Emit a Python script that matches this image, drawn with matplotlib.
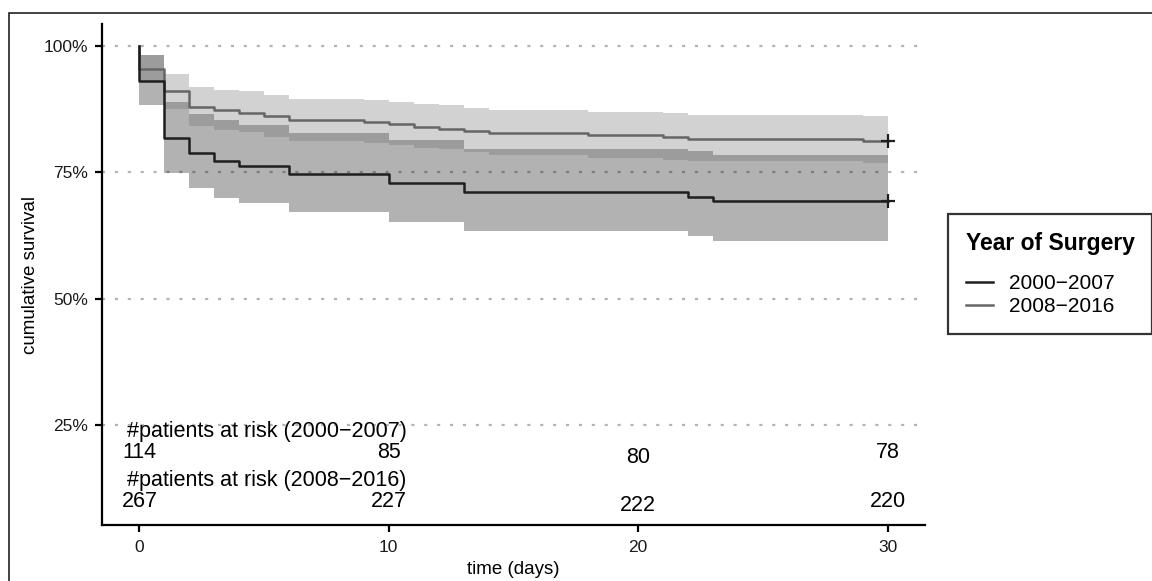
import numpy as np
import matplotlib
matplotlib.use("Agg")
import matplotlib.pyplot as plt
from matplotlib.patches import Rectangle
from matplotlib.lines import Line2D

plt.rcParams['font.family'] = ['Liberation Sans', 'DejaVu Sans']

# ---------------- data ----------------
end_time = 30

# 2000-2007
times_a = [0, 1, 2, 3, 4, 6, 10, 13, 22, 23]
surv_a = [0.930, 0.817, 0.789, 0.772, 0.763, 0.746, 0.729, 0.711, 0.702, 0.693]
upper_a = [0.982, 0.890, 0.866, 0.853, 0.844, 0.8285, 0.813, 0.797, 0.792, 0.784]
lower_a = [0.883, 0.748, 0.7185, 0.699, 0.690, 0.671, 0.652, 0.633, 0.623, 0.614]

# 2008-2016
times_b = [0, 1, 2, 3, 4, 5, 6, 9, 10, 11, 12, 13, 14, 18, 21, 22, 29]
surv_b = [0.955, 0.910, 0.880, 0.873, 0.868, 0.861, 0.854, 0.850, 0.846, 0.839,
          0.835, 0.8325, 0.827, 0.8233, 0.820, 0.816, 0.812]
upper_b = [0.983, 0.944, 0.919, 0.913, 0.910, 0.902, 0.896, 0.8925, 0.889, 0.886,
           0.883, 0.877, 0.874, 0.870, 0.867, 0.864, 0.8606]
lower_b = [0.930, 0.876, 0.8415, 0.834, 0.830, 0.820, 0.811, 0.808, 0.804, 0.799,
           0.797, 0.790, 0.784, 0.7787, 0.775, 0.7715, 0.768]

series_labels = ['2000\u22122007', '2008\u22122016']
legend_title = 'Year of Surgery'

risk_times = [0, 10, 20, 30]
risk_a = [114, 85, 80, 78]
risk_b = [267, 227, 222, 220]
risk_header_a = '#patients at risk (2000\u22122007)'
risk_header_b = '#patients at risk (2008\u22122016)'

y_ticks = [0.25, 0.50, 0.75, 1.00]
y_ticklabels = ['25%', '50%', '75%', '100%']
x_ticks = [0, 10, 20, 30]

# ---------------- figure ----------------
W, H = 1152, 581
fig = plt.figure(figsize=(W / 100, H / 100), dpi=100)
ax = fig.add_axes([102 / W, 1 - 525 / H, (925 - 102) / W, (525 - 24) / H])

col_a = '#1e1e1e'
col_b = '#666666'

# grid (dotted horizontal)
for yv in y_ticks:
    ax.axhline(yv, color='#b4b4b4', lw=1.6, linestyle=(0, (1.4, 4.4)), zorder=0.5)

# confidence bands
xa = np.r_[times_a, end_time]
xb = np.r_[times_b, end_time]
ax.fill_between(xa, np.r_[lower_a, lower_a[-1]], np.r_[upper_a, upper_a[-1]],
                step='post', color='black', alpha=0.3, lw=0, zorder=1)
ax.fill_between(xb, np.r_[lower_b, lower_b[-1]], np.r_[upper_b, upper_b[-1]],
                step='post', color='#6b6b6b', alpha=0.3, lw=0, zorder=1.1)

# survival curves
ax.step(np.r_[0, times_a, end_time], np.r_[1.0, surv_a, surv_a[-1]], where='post',
        color=col_a, lw=1.8, zorder=3, label=series_labels[0])
ax.step(np.r_[0, times_b, end_time], np.r_[1.0, surv_b, surv_b[-1]], where='post',
        color=col_b, lw=1.8, zorder=2.9, label=series_labels[1])
ax.plot([end_time], [surv_a[-1]], marker='+', ms=10, mew=1.6, color=col_a, zorder=4)
ax.plot([end_time], [surv_b[-1]], marker='+', ms=10, mew=1.6, color=col_a, zorder=4)

# at-risk table
fs_risk = 15.5
ax.text(5.1, 0.2366, risk_header_a, ha='center', va='center', fontsize=fs_risk, color='black')
ax.text(5.1, 0.140, risk_header_b, ha='center', va='center', fontsize=fs_risk, color='black')
ya = [0.196, 0.196, 0.186, 0.196]
yb = [0.098, 0.098, 0.091, 0.098]
for t, n, yy in zip(risk_times, risk_a, ya):
    ax.text(t, yy, str(n), ha='center', va='center', fontsize=fs_risk, color='black')
for t, n, yy in zip(risk_times, risk_b, yb):
    ax.text(t, yy, str(n), ha='center', va='center', fontsize=fs_risk, color='black')

# axes
ax.set_xlim(-1.5, 31.5)
ax.set_ylim(0.052, 1.0435)
ax.set_xticks(x_ticks)
ax.set_yticks(y_ticks)
ax.set_yticklabels(y_ticklabels)
for s in ['top', 'right']:
    ax.spines[s].set_visible(False)
for s in ['left', 'bottom']:
    ax.spines[s].set_linewidth(1.6)
    ax.spines[s].set_color('black')
ax.tick_params(axis='both', direction='out', length=5, width=1.6, color='black',
               labelsize=12.5, labelcolor='#1a1a1a', pad=6)
ax.tick_params(axis='y', pad=5)
ax.set_xlabel('time (days)', fontsize=13.5, color='black', labelpad=4)
ax.set_ylabel('cumulative survival', fontsize=13.5, color='black', labelpad=3)
ax.patch.set_visible(False)

# legend
handles = [Line2D([], [], color=col_a, lw=1.8), Line2D([], [], color=col_b, lw=1.8)]
leg = fig.legend(handles, series_labels, title=legend_title,
                 loc='center left', bbox_to_anchor=(948 / W, 1 - 274 / H),
                 fontsize=15, title_fontproperties={'weight': 'bold', 'size': 16.5},
                 alignment='left', frameon=True, fancybox=False,
                 edgecolor='black', handlelength=1.3, handletextpad=0.8,
                 borderpad=0.85, labelspacing=0.2, borderaxespad=0)
leg.get_frame().set_linewidth(1.6)
leg._legend_box.sep = 14

# outer figure border (top and left visible)
fig.patches.append(Rectangle((9 / W, -0.1), 1.2, 1.1 - 13 / H, transform=fig.transFigure,
                             fill=False, edgecolor='#222222', lw=1.2))

fig.savefig('out.png', dpi=100)
